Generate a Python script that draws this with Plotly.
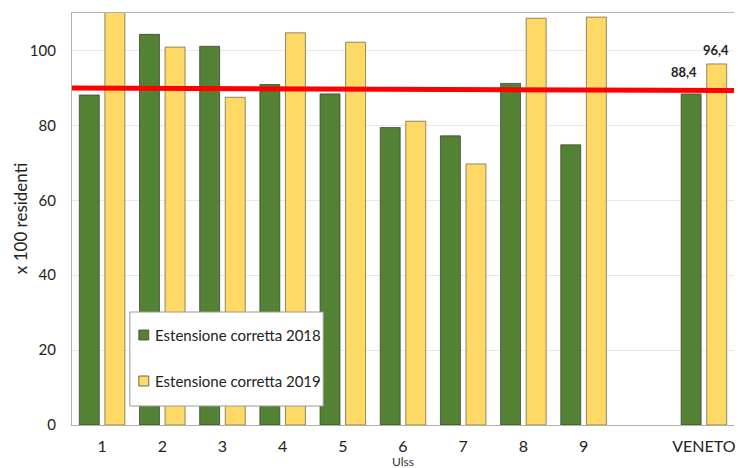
import plotly.graph_objects as go

# Categories (empty slot separates the Ulss from the regional total)
ulss = ["1", "2", "3", "4", "5", "6", "7", "8", "9", " ", "VENETO"]
est_2018 = [88.1, 104.3, 101.1, 90.9, 88.4, 79.4, 77.2, 91.2, 74.8, None, 88.4]
est_2019 = [113.0, 100.9, 87.5, 104.7, 102.2, 81.1, 69.7, 108.6, 108.9, None, 96.4]
trend_y = [89.95, 89.33]          # reference line, left to right across the plot
y_ticks = [0, 20, 40, 60, 80, 100]

name_2018 = "Estensione corretta 2018"
name_2019 = "Estensione corretta 2019"
green = "#548235"
yellow = "#FFD966"
font_family = "Lato, 'Open Sans', sans-serif"

W, H = 738, 468
ML, MR, MT, MB = 72, 2, 13, 43
PW, PH = W - ML - MR, H - MT - MB


def px_x(px):
    return (px - ML) / PW


def px_y(py):
    return (H - MB - py) / PH


fig = go.Figure()
fig.add_trace(go.Bar(x=ulss, y=est_2018, name=name_2018, marker_color=green,
                     marker_line=dict(color="rgba(60,60,50,0.75)", width=1),
                     showlegend=False))
fig.add_trace(go.Bar(x=ulss, y=est_2019, name=name_2019, marker_color=yellow,
                     marker_line=dict(color="rgba(110,100,70,0.75)", width=1),
                     showlegend=False))
fig.add_trace(go.Scatter(x=[0, 1], y=trend_y, mode="lines", xaxis="x2",
                         line=dict(color="#FF0000", width=5), showlegend=False,
                         hoverinfo="skip"))

# Value labels on the regional bars
fmt = lambda v: f"{v:.1f}".replace(".", ",")
annotations = [
    dict(x="VENETO", y=est_2018[-1], text=f"<b>{fmt(est_2018[-1])}</b>", showarrow=False,
         xshift=-20, yshift=12, yanchor="bottom", font=dict(size=13, color="#222")),
    dict(x="VENETO", y=est_2019[-1], text=f"<b>{fmt(est_2019[-1])}</b>", showarrow=False,
         xshift=12, yshift=4, yanchor="bottom", font=dict(size=13, color="#222")),
    dict(x=px_x(20), y=0.5, xref="paper", yref="paper", text="x 100 residenti",
         textangle=-90, showarrow=False, xanchor="center", yanchor="middle",
         font=dict(size=17, color="#222")),
    dict(x=px_x(404), y=px_y(461), xref="paper", yref="paper", text="Ulss",
         showarrow=False, xanchor="center", yanchor="middle",
         font=dict(size=12, color="#333")),
]

# Legend box drawn inside the plot area
shapes = [
    dict(type="rect", xref="paper", yref="paper", x0=px_x(130), x1=px_x(324),
         y0=px_y(406), y1=px_y(312), fillcolor="white",
         line=dict(color="#9a9a9a", width=1), layer="above"),
]
for name, color, cy in [(name_2018, green, 335), (name_2019, yellow, 381)]:
    shapes.append(dict(type="rect", xref="paper", yref="paper",
                       x0=px_x(139), x1=px_x(149), y0=px_y(cy + 5), y1=px_y(cy - 5),
                       fillcolor=color, line=dict(color="rgba(70,70,60,0.8)", width=1),
                       layer="above"))
    annotations.append(dict(x=px_x(153), y=px_y(cy), xref="paper", yref="paper",
                            text=name, showarrow=False, xanchor="left", yanchor="middle",
                            font=dict(size=15, color="#222")))

fig.update_layout(
    width=W, height=H,
    margin=dict(l=ML, r=MR, t=MT, b=MB),
    paper_bgcolor="white", plot_bgcolor="white",
    font=dict(family=font_family, color="#222"),
    barmode="group", bargap=0.15, bargroupgap=0.22,
    xaxis=dict(type="category", categoryorder="array", categoryarray=ulss,
               range=[-0.5, len(ulss) - 0.5], showline=True, mirror=True,
               linecolor="#b0b0b0", linewidth=1.3, ticks="", showgrid=False,
               tickfont=dict(size=16, color="#222"), ticklabelstandoff=7),
    xaxis2=dict(overlaying="x", range=[0, 1], visible=False),
    yaxis=dict(range=[0, 110], tickvals=y_ticks, showgrid=True, gridcolor="#e8e8e8",
               gridwidth=1, showline=True, linecolor="#b0b0b0", linewidth=1.3,
               ticks="", zeroline=False, tickfont=dict(size=15, color="#222"),
               ticklabelstandoff=12),
    annotations=annotations,
    shapes=shapes,
    showlegend=False,
)

fig.write_html("out.html")
